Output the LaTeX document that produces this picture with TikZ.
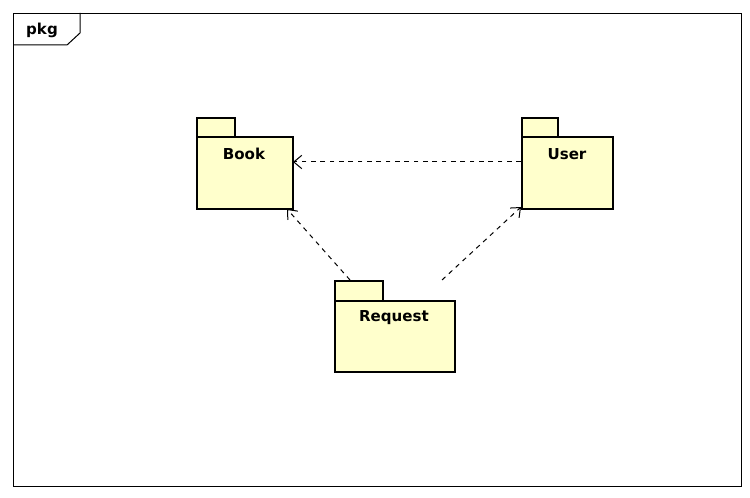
\documentclass[tikz,border=0pt]{standalone}
\usepackage{fontspec}
\setmainfont{DejaVu Sans}
\usetikzlibrary{arrows.meta}
\definecolor{pkgfill}{RGB}{255,255,204}
\tikzset{
  pkgbody/.style={draw=black, line width=1.8pt, fill=pkgfill, inner sep=0pt},
  pkgtab/.style={draw=black, line width=1.8pt, fill=pkgfill, inner sep=0pt},
  pkgname/.style={font=\fontsize{11.3}{13}\selectfont\bfseries, inner sep=0pt},
  dep/.style={draw=black, line width=0.75pt, dash pattern=on 3.5pt off 3.5pt, -{Straight Barb[length=6pt,width=10pt,line width=0.75pt]}},
}
\begin{document}
\begin{tikzpicture}[x=0.75pt,y=-0.75pt]
\useasboundingbox (0,0) rectangle (750,498);
% frame
\node[draw=black, line width=0.75pt, minimum width=546pt, minimum height=354.75pt, inner sep=0pt, anchor=north west] (frame) at (13,13) {};
\draw[line width=0.75pt] (13,45) -- (67,45) -- (80,33) -- (80,13);
\node[font=\fontsize{11.3}{13}\selectfont\bfseries, inner sep=0pt] (pkg) at (42,30) {pkg};
% Book
\node[pkgtab, minimum width=28.5pt, minimum height=14.25pt, anchor=north west] (booktab) at (196,117) {};
\node[pkgbody, minimum width=72pt, minimum height=54pt, anchor=north west] (book) at (196,136) {};
\node[pkgname] (bookname) at (244,154) {Book};
% User
\node[pkgtab, minimum width=27pt, minimum height=14.25pt, anchor=north west] (usertab) at (521,117) {};
\node[pkgbody, minimum width=68.25pt, minimum height=54pt, anchor=north west] (user) at (521,136) {};
\node[pkgname] (username) at (567,154) {User};
% Request
\node[pkgtab, minimum width=36pt, minimum height=15pt, anchor=north west] (reqtab) at (334,280) {};
\node[pkgbody, minimum width=90pt, minimum height=53.25pt, anchor=north west] (req) at (334,300) {};
\node[pkgname] (reqname) at (394,318) {Request};
% connector ends
\coordinate (u1) at (521,162);
\coordinate (b1) at (293,162);
\coordinate (r1) at (350,280);
\coordinate (b2) at (287,209);
\coordinate (r2) at (442,280);
\coordinate (u2) at (521,207);
\draw[dep] (u1) -- (b1);
\draw[dep] (r1) -- (b2);
\draw[dep] (r2) -- (u2);
\end{tikzpicture}
\end{document}
